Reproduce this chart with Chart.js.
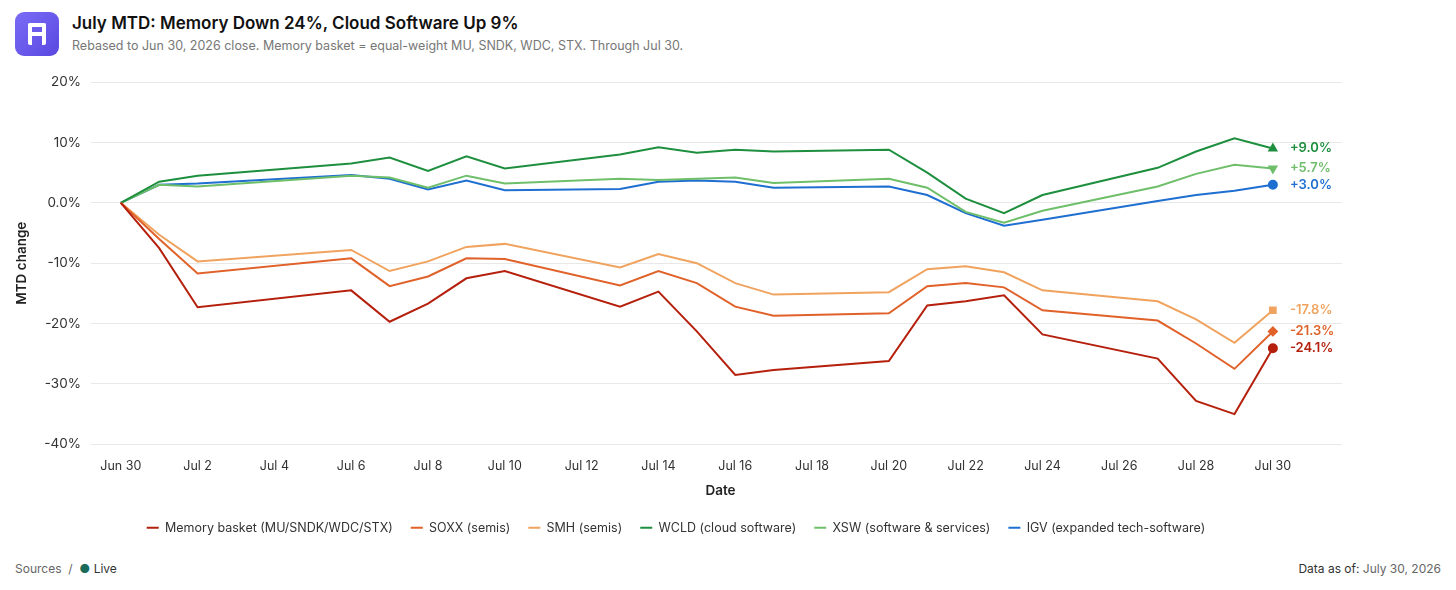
<!DOCTYPE html><html><head><meta charset="utf-8">
<script src="https://cdn.jsdelivr.net/npm/chart.js@4"></script>
<style>
body{margin:0;width:1456px;height:590px;background:#fff;font-family:Inter,"Noto Sans",sans-serif;position:relative;overflow:hidden}
.logo{position:absolute;left:15px;top:12px;width:44px;height:44px;border-radius:9px;background:linear-gradient(135deg,#7b6cf6,#5a48e0)}
.logo span{position:absolute;left:13px;top:11px;width:18px;height:22px;border:4px solid #fff;border-bottom:none;border-radius:2px;box-sizing:border-box}
.logo i{position:absolute;left:17px;top:20px;width:10px;height:4px;background:#fff}
h1{position:absolute;left:72px;top:13px;margin:0;font-size:17px;font-weight:600;color:#111}
.sub{position:absolute;left:72px;top:38px;font-size:12.5px;color:#777}
.wrap{position:absolute;left:0;top:64px;width:1456px;height:480px}
.foot{position:absolute;top:561px;font-size:12px;color:#666}
</style></head><body>
<div class="logo"><span></span><i></i></div>
<h1>July MTD: Memory Down 24%, Cloud Software Up 9%</h1>
<div class="sub">Rebased to Jun 30, 2026 close. Memory basket = equal-weight MU, SNDK, WDC, STX. Through Jul 30.</div>
<div class="wrap"><canvas id="c"></canvas></div>
<div class="foot" style="left:15px">Sources &nbsp;/&nbsp; <span style="color:#1a6b5a">●</span> <span style="color:#333">Live</span></div>
<div class="foot" style="right:15px"><span style="color:#333">Data as of:</span> July 30, 2026</div>
<script>
const days=[0,1,2,6,7,8,9,10,13,14,15,16,17,20,21,22,23,24,27,28,29,30];
const tickLabels={0:'Jun 30',2:'Jul 2',4:'Jul 4',6:'Jul 6',8:'Jul 8',10:'Jul 10',12:'Jul 12',14:'Jul 14',16:'Jul 16',18:'Jul 18',20:'Jul 20',22:'Jul 22',24:'Jul 24',26:'Jul 26',28:'Jul 28',30:'Jul 30'};
const memory=[0,-7.5,-17.3,-14.5,-19.7,-16.7,-12.5,-11.3,-17.2,-14.7,-21.3,-28.5,-27.7,-26.2,-17,-16.3,-15.3,-21.8,-25.8,-32.8,-35,-24.1];
const soxx=[0,-6,-11.7,-9.2,-13.8,-12.2,-9.2,-9.3,-13.7,-11.3,-13.3,-17.2,-18.7,-18.3,-13.8,-13.3,-14,-17.8,-19.5,-23.3,-27.5,-21.3];
const smh=[0,-5.3,-9.7,-7.8,-11.3,-9.7,-7.3,-6.8,-10.7,-8.5,-10,-13.3,-15.2,-14.8,-11,-10.5,-11.5,-14.5,-16.3,-19.3,-23.2,-17.8];
const wcld=[0,3.5,4.5,6.5,7.5,5.3,7.7,5.7,8,9.2,8.3,8.8,8.5,8.8,5,0.7,-1.7,1.3,5.8,8.5,10.7,9.0];
const xsw=[0,3.0,2.7,4.5,4.2,2.5,4.5,3.2,4,3.8,4,4.2,3.3,4,2.5,-1.5,-3.3,-1.3,2.7,4.8,6.3,5.7];
const igv=[0,3.0,3.2,4.6,4,2.2,3.7,2.1,2.3,3.5,3.7,3.5,2.5,2.7,1.3,-1.7,-3.8,-2.8,0.3,1.3,2,3.0];
const series=[
['Memory basket (MU/SNDK/WDC/STX)',memory,'#b5200d','circle',0,'-24.1%'],
['SOXX (semis)',soxx,'#e0622a','rectRot',0,'-21.3%'],
['SMH (semis)',smh,'#f0a35e','rect',0,'-17.8%'],
['WCLD (cloud software)',wcld,'#1e8f3e','triangle',0,'+9.0%'],
['XSW (software & services)',xsw,'#6fbf6a','triangle',180,'+5.7%'],
['IGV (expanded tech-software)',igv,'#1f6fd1','circle',0,'+3.0%']];
const last=days.length-1;
const endLabels={id:'endLabels',afterDatasetsDraw(ch){const c=ch.ctx;c.save();c.font='600 13px Inter';c.textBaseline='middle';
ch.data.datasets.forEach((d,i)=>{const m=ch.getDatasetMeta(i).data[last];c.fillStyle=d.borderColor;c.fillText(d.endLabel,m.x+17,m.y);});c.restore();}};
new Chart(document.getElementById('c'),{type:'line',
data:{datasets:series.map(s=>({label:s[0],data:days.map((d,i)=>({x:d,y:s[1][i]})),borderColor:s[2],backgroundColor:s[2],borderWidth:2,tension:0,
pointStyle:s[3],rotation:s[4],pointRadius:days.map((d,i)=>i===last?4:0),pointHoverRadius:0,endLabel:s[5]}))},
options:{responsive:true,maintainAspectRatio:false,animation:false,
layout:{padding:{left:10,right:114,top:12,bottom:0}},
plugins:{legend:{position:'bottom',labels:{boxWidth:12,boxHeight:2,padding:18,color:'#333',font:{size:12.5,family:'Inter'},
generateLabels:ch=>ch.data.datasets.map((d,i)=>({text:d.label,fillStyle:d.borderColor,strokeStyle:d.borderColor,lineWidth:0,datasetIndex:i,fontColor:'#333'}))}},tooltip:{enabled:false}},
scales:{x:{type:'linear',min:-0.57,max:31.8,grid:{display:false},border:{display:false},
afterBuildTicks:a=>{a.ticks=Object.keys(tickLabels).map(v=>({value:+v}));},
ticks:{callback:v=>tickLabels[v]||'',color:'#333',font:{size:12.5,family:'Inter'},maxRotation:0,autoSkip:false,padding:6},
title:{display:true,text:'Date',color:'#222',font:{size:13.5,weight:'600',family:'Inter'},padding:{top:4,bottom:4}}},
y:{min:-40,max:20,grid:{color:'#e8e8e8'},border:{display:false},
ticks:{stepSize:10,callback:v=>v===0?'0.0%':v+'%',color:'#333',font:{size:13.5,family:'Inter'},padding:10},
title:{display:true,text:'MTD change',color:'#222',font:{size:13.5,weight:'600',family:'Inter'}}}}},
plugins:[endLabels]});
</script></body></html>
